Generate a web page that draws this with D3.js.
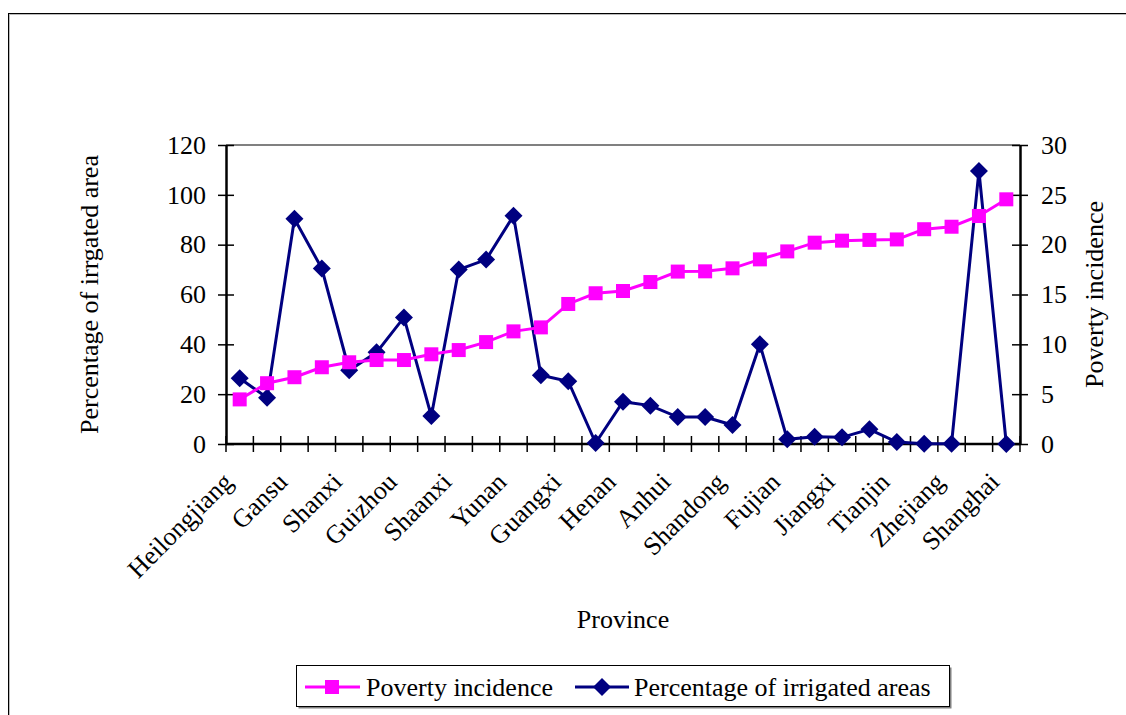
<!DOCTYPE html>
<html>
<head>
<meta charset="utf-8">
<script src="https://cdn.jsdelivr.net/npm/d3@7"></script>
<style>
  html, body { margin: 0; padding: 0; background: #fff; }
  svg { display: block; }
  text { font-family: "Liberation Serif", "Times New Roman", serif; fill: #000; }
</style>
</head>
<body>
<svg id="chart" width="1126" height="715"></svg>
<script>
// Provinces along the category axis (only every other name is printed)
const provinces = [
  "Heilongjiang", "", "Gansu", "", "Shanxi", "", "Guizhou", "", "Shaanxi", "",
  "Yunan", "", "Guangxi", "", "Henan", "", "Anhui", "", "Shandong", "",
  "Fujian", "", "Jiangxi", "", "Tianjin", "", "Zhejiang", "", "Shanghai"
];

// Series plotted against the left scale (0-120)
const povertyIncidence = [
  17.9, 24.4, 26.8, 30.8, 32.8, 33.7, 33.7, 36.0, 37.7, 40.9,
  45.2, 46.8, 56.2, 60.5, 61.4, 65.0, 69.2, 69.3, 70.5, 74.1,
  77.3, 80.8, 81.6, 81.9, 82.1, 86.2, 87.2, 91.5, 98.2
];

// Series plotted against the right scale (0-30)
const irrigatedAreas = [
  6.6, 4.65, 22.6, 17.6, 7.4, 9.2, 12.7, 2.8, 17.5, 18.5,
  22.9, 6.9, 6.3, 0.1, 4.25, 3.85, 2.7, 2.7, 1.9, 10.0,
  0.47, 0.73, 0.67, 1.47, 0.2, 0.03, 0.03, 27.4, 0.0
];

const leftTicks = [0, 20, 40, 60, 80, 100, 120];
const rightTicks = [0, 5, 10, 15, 20, 25, 30];

const svg = d3.select("#chart");
const plot = { left: 226, right: 1020, top: 145, bottom: 444 };
const FS = 26;

// outer chart frame
svg.append("rect")
  .attr("x", 9.5).attr("y", 14.5).attr("width", 1300).attr("height", 900)
  .attr("fill", "none").attr("stroke", "#bbb").attr("stroke-width", 1);
svg.append("rect")
  .attr("x", 8.5).attr("y", 13.5).attr("width", 1300).attr("height", 900)
  .attr("fill", "none").attr("stroke", "#000").attr("stroke-width", 1);

const idx = d3.range(provinces.length);
const x = d3.scaleBand().domain(idx).range([plot.left, plot.right]);
const yL = d3.scaleLinear().domain([0, 120]).range([plot.bottom, plot.top]);
const yR = d3.scaleLinear().domain([0, 30]).range([plot.bottom, plot.top]);
const cx = i => x(i) + x.bandwidth() / 2;

// plot area top border
svg.append("line")
  .attr("x1", plot.left).attr("x2", plot.right)
  .attr("y1", plot.top).attr("y2", plot.top)
  .attr("stroke", "#808080").attr("stroke-width", 2);

// left axis
const gL = svg.append("g").attr("transform", `translate(${plot.left},0)`)
  .call(d3.axisLeft(yL).tickValues(leftTicks).tickSize(8).tickPadding(12).tickSizeOuter(0));
gL.selectAll(".tick line").attr("x2", 8).attr("x1", -8).attr("stroke-width", 1.5);
// right axis
const gR = svg.append("g").attr("transform", `translate(${plot.right},0)`)
  .call(d3.axisRight(yR).tickValues(rightTicks).tickSize(8).tickPadding(13).tickSizeOuter(0));
gR.selectAll(".tick line").attr("x1", -8).attr("x2", 8).attr("stroke-width", 1.5);
// bottom axis, ticks at band boundaries
const boundaries = d3.range(provinces.length + 1).map(i => plot.left + i * x.bandwidth());
const gB = svg.append("g");
gB.selectAll("line.tk").data(boundaries).join("line")
  .attr("x1", d => d).attr("x2", d => d)
  .attr("y1", plot.bottom - 8).attr("y2", plot.bottom + 8)
  .attr("stroke", "#000").attr("stroke-width", 1.5);
gB.append("line")
  .attr("x1", plot.left).attr("x2", plot.right)
  .attr("y1", plot.bottom).attr("y2", plot.bottom)
  .attr("stroke", "#000").attr("stroke-width", 2.5);

[gL, gR].forEach(g => {
  g.select(".domain").attr("stroke", "#000").attr("stroke-width", 2.5);
  g.selectAll(".tick line").attr("stroke", "#000");
  g.selectAll(".tick text").attr("font-size", FS).attr("font-family", "Liberation Serif").attr("fill", "#000");
});

// category labels, rotated
svg.append("g").selectAll("text").data(idx.filter(i => provinces[i] !== "")).join("text")
  .attr("transform", i => `translate(${cx(i) - 12},${plot.bottom + 33}) rotate(-45)`)
  .attr("text-anchor", "end")
  .attr("dy", "0.35em")
  .attr("font-size", FS)
  .text(i => provinces[i]);

// axis titles
svg.append("text")
  .attr("transform", `translate(98,${(plot.top + plot.bottom) / 2}) rotate(-90)`)
  .attr("text-anchor", "middle").attr("font-size", FS)
  .text("Percentage of irrgated area");
svg.append("text")
  .attr("transform", `translate(1103,${(plot.top + plot.bottom) / 2}) rotate(-90)`)
  .attr("text-anchor", "middle").attr("font-size", FS)
  .text("Poverty incidence");
svg.append("text")
  .attr("x", 623).attr("y", 628)
  .attr("text-anchor", "middle").attr("font-size", FS)
  .text("Province");

const pink = "#ff00ff", navy = "#000080";
const sq = 14, dm = 9;
const diamond = (px, py, r) => `M${px},${py - r}L${px + r},${py}L${px},${py + r}L${px - r},${py}Z`;

// irrigated series (navy diamonds)
svg.append("path")
  .datum(irrigatedAreas)
  .attr("fill", "none").attr("stroke", navy).attr("stroke-width", 3)
  .attr("d", d3.line().x((d, i) => cx(i)).y(d => yR(d)));
svg.append("g").selectAll("path").data(irrigatedAreas).join("path")
  .attr("d", (d, i) => diamond(cx(i), yR(d), dm))
  .attr("fill", navy);

// poverty series (magenta squares)
svg.append("path")
  .datum(povertyIncidence)
  .attr("fill", "none").attr("stroke", pink).attr("stroke-width", 3)
  .attr("d", d3.line().x((d, i) => cx(i)).y(d => yL(d)));
svg.append("g").selectAll("rect").data(povertyIncidence).join("rect")
  .attr("x", (d, i) => cx(i) - sq / 2).attr("y", d => yL(d) - sq / 2)
  .attr("width", sq).attr("height", sq)
  .attr("fill", pink);

// legend
const lg = svg.append("g");
lg.append("rect").attr("x", 298.5).attr("y", 667.5).attr("width", 653).attr("height", 41)
  .attr("fill", "#808080");
lg.append("rect").attr("x", 296.5).attr("y", 665.5).attr("width", 653).attr("height", 41)
  .attr("fill", "#fff").attr("stroke", "#000").attr("stroke-width", 1);
const ly = 687;
lg.append("line").attr("x1", 305).attr("x2", 360).attr("y1", ly).attr("y2", ly)
  .attr("stroke", pink).attr("stroke-width", 3);
lg.append("rect").attr("x", 332 - sq / 2).attr("y", ly - sq / 2).attr("width", sq).attr("height", sq)
  .attr("fill", pink);
lg.append("text").attr("x", 366).attr("y", ly).attr("dy", "0.35em").attr("font-size", FS)
  .text("Poverty incidence");
lg.append("line").attr("x1", 575).attr("x2", 629).attr("y1", ly).attr("y2", ly)
  .attr("stroke", navy).attr("stroke-width", 3);
lg.append("path").attr("d", diamond(602, ly, dm)).attr("fill", navy);
lg.append("text").attr("x", 634).attr("y", ly).attr("dy", "0.35em").attr("font-size", FS)
  .text("Percentage of irrigated areas");
</script>
</body>
</html>
